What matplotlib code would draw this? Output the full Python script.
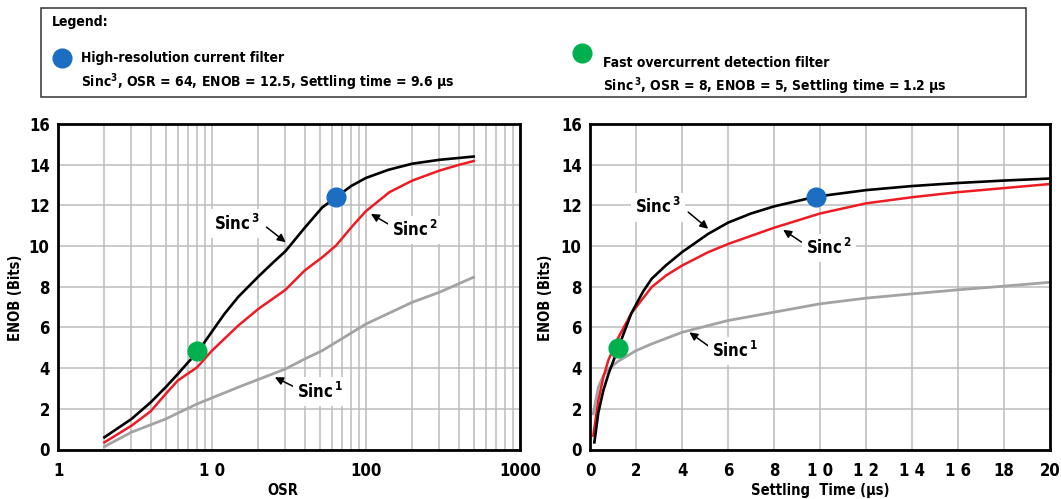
import matplotlib
matplotlib.use("Agg")
import matplotlib.pyplot as plt
from matplotlib.lines import Line2D
from matplotlib.patches import Rectangle

plt.rcParams['font.family'] = ['DejaVu Sans']
plt.rcParams['font.stretch'] = 'condensed'
plt.rcParams['font.weight'] = 'bold'
plt.rcParams['mathtext.default'] = 'regular'

# ENOB vs OSR
osr_s3 = [2, 3, 4, 5, 6, 7, 8, 10, 12, 14.8, 20, 25, 30, 40, 52, 64, 80, 100, 140, 200,
          300, 500]
enob_osr_s3 = [0.6, 1.5, 2.32, 3.06, 3.71, 4.29, 4.75, 5.8, 6.65, 7.5, 8.5, 9.2, 9.75,
               10.9, 11.9, 12.4, 12.95, 13.35, 13.75, 14.05, 14.24, 14.4]
osr_s2 = [2, 3, 4, 5, 6, 8, 10, 14.8, 20, 30, 40, 52, 64, 82, 100, 142, 200, 300, 405, 500]
enob_osr_s2 = [0.35, 1.17, 1.88, 2.73, 3.39, 4.04, 4.86, 6.09, 6.91, 7.85, 8.8, 9.45,
               10.03, 11.0, 11.72, 12.65, 13.22, 13.71, 14.0, 14.18]
osr_s1 = [2, 3, 5, 8, 14.8, 30, 40, 52, 100, 200, 300, 500]
enob_osr_s1 = [0.14, 0.85, 1.5, 2.24, 3.06, 3.96, 4.45, 4.86, 6.17, 7.24, 7.73, 8.47]

# ENOB vs settling time (right panel)
t_s3 = [0.19, 0.36, 0.58, 0.8, 1.23, 1.8, 2.3, 2.68, 3.3, 4.0, 5.14, 6, 7, 8, 9.84, 12,
        14, 16, 18, 20]
enob_t_s3 = [0.35, 1.8, 2.9, 3.7, 5.0, 6.7, 7.75, 8.39, 9.05, 9.7, 10.6, 11.15, 11.6,
             11.95, 12.43, 12.75, 12.95, 13.1, 13.22, 13.32]
t_s2 = [0.14, 0.36, 0.58, 0.8, 1.23, 1.8, 2.68, 3.3, 4.0, 5.14, 6, 8, 10, 12, 14, 16, 18, 20]
enob_t_s2 = [0.68, 2.4, 3.55, 4.4, 5.5, 6.7, 7.98, 8.55, 9.04, 9.7, 10.1, 10.9, 11.6,
             12.1, 12.4, 12.65, 12.85, 13.05]
t_s1 = [0.14, 0.36, 0.58, 0.8, 1.23, 2.0, 2.68, 4.0, 6, 8, 10, 12, 14, 16, 18, 20]
enob_t_s1 = [1.75, 3.06, 3.63, 3.96, 4.34, 4.86, 5.19, 5.76, 6.34, 6.75, 7.16, 7.44,
             7.65, 7.85, 8.03, 8.22]

# highlighted filters: (OSR, settling time, ENOB)
hires = (64, 9.84, 12.4)
fast = (8, 1.23, 4.85)

BLUE = '#1b6ec2'
GREEN = '#00b04f'
RED = '#ed1c24'
GRAY = '#a3a3a3'
GRID = '#bcbcbc'

W, H = 1061, 499
fig = plt.figure(figsize=(W / 100, H / 100), dpi=100)


def fx(px):
    return px / W


def fy(py):
    return 1 - py / H


ax1 = fig.add_axes([fx(58), fy(449.5), (520 - 58) / W, 325.5 / H])
ax2 = fig.add_axes([fx(590), fy(449.5), (1050 - 590) / W, 325.5 / H])

for ax in (ax1, ax2):
    ax.set_ylim(0, 16)
    ax.set_yticks(range(0, 17, 2))
    ax.grid(True, which='both', color=GRID, lw=1.1)
    ax.set_axisbelow(True)
    ax.tick_params(length=0, labelsize=12, pad=6)
    ax.tick_params(axis='x', pad=9)
    for s in ax.spines.values():
        s.set_linewidth(2)
    ax.set_ylabel('ENOB (Bits)', fontsize=10.5, fontweight='bold')
ax1.yaxis.set_label_coords(-0.076, 0.465)
ax2.yaxis.set_label_coords(-0.08, 0.465)

ax1.set_xscale('log')
ax1.set_xlim(1, 1000)
ax1.set_xticks([1, 10, 100, 1000])
ax1.set_xticklabels(['1', '1 0', '100', '1000'])
ax1.minorticks_on()
ax1.tick_params(which='minor', length=0)
ax1.yaxis.set_minor_locator(matplotlib.ticker.NullLocator())
ax1.xaxis.set_minor_formatter(matplotlib.ticker.NullFormatter())
ax1.set_xlabel('OSR', fontsize=10.5, fontweight='bold')
ax1.xaxis.set_label_coords(0.487, -0.102)

ax2.set_xlim(0, 20)
ax2.set_xticks(range(0, 21, 2))
ax2.set_xticklabels(['0', '2', '4', '6', '8', '1 0', '1 2', '1 4', '1 6', '18', '20'])
ax2.set_xlabel('Settling  Time (µs)', fontsize=10.5, fontweight='bold')
ax2.xaxis.set_label_coords(0.5, -0.102)

ax1.plot(osr_s1, enob_osr_s1, color=GRAY, lw=2)
ax1.plot(osr_s2, enob_osr_s2, color=RED, lw=1.8)
ax1.plot(osr_s3, enob_osr_s3, color='black', lw=1.9)
ax1.plot(hires[0], hires[2], 'o', color=BLUE, ms=13.5)
ax1.plot(fast[0], fast[2], 'o', color=GREEN, ms=13.5)

ax2.plot(t_s1, enob_t_s1, color=GRAY, lw=2)
ax2.plot(t_s2, enob_t_s2, color=RED, lw=1.8)
ax2.plot(t_s3, enob_t_s3, color='black', lw=1.9)
ax2.plot(hires[1], hires[2], 'o', color=BLUE, ms=13.5)
ax2.plot(fast[1], 5.0, 'o', color=GREEN, ms=13.5)

arrow = dict(arrowstyle='-|>', color='black', lw=1.1, mutation_scale=12,
             shrinkA=0, shrinkB=0)
box = dict(facecolor='white', edgecolor='none', pad=3)


def label(ax, head, tail, txt_xy, order, ha):
    ax.annotate('', xy=head, xytext=tail, arrowprops=arrow)
    ax.text(txt_xy[0], txt_xy[1], r'Sinc$^{\,%d}$' % order, fontsize=12,
            fontweight='bold', ha=ha, va='center', bbox=box)


label(ax1, (30.1, 10.19), (22.6, 10.93), (20.5, 11.1), 3, 'right')
label(ax1, (107.6, 11.58), (145, 11.01), (148, 10.8), 2, 'left')
label(ax1, (25.6, 3.55), (34.6, 3.06), (35.6, 2.85), 1, 'left')

label(ax2, (5.14, 10.85), (4.27, 11.67), (3.95, 11.9), 3, 'right')
label(ax2, (8.4, 10.8), (9.2, 10.19), (9.4, 9.9), 2, 'left')
label(ax2, (4.32, 5.76), (5.22, 5.03), (5.32, 4.85), 1, 'left')

# legend box on top
fig.add_artist(Rectangle((fx(41), fy(97)), (1026 - 41) / W, 89 / H,
                         transform=fig.transFigure, fill=False,
                         edgecolor='#333333', lw=1.1))
fig.text(fx(52), fy(22), 'Legend:', fontsize=10, fontweight='bold', va='center')
fig.add_artist(Line2D([fx(62)], [fy(58)], marker='o', ms=13.5, color=BLUE,
                      transform=fig.transFigure))
fig.text(fx(81), fy(58), 'High-resolution current filter', fontsize=10,
         fontweight='bold', va='center')
fig.text(fx(81), fy(82), 'Sinc$^3$, OSR = 64, ENOB = 12.5, Settling time = 9.6 µs',
         fontsize=10, fontweight='bold', va='center')
fig.add_artist(Line2D([fx(582)], [fy(53)], marker='o', ms=13.5, color=GREEN,
                      transform=fig.transFigure))
fig.text(fx(603), fy(63), 'Fast overcurrent detection filter', fontsize=10,
         fontweight='bold', va='center')
fig.text(fx(603), fy(86), r'Sinc$^{\,3}$, OSR = 8, ENOB = 5, Settling time = 1.2 µs',
         fontsize=10, fontweight='bold', va='center')

fig.savefig('out.png', dpi=100)
